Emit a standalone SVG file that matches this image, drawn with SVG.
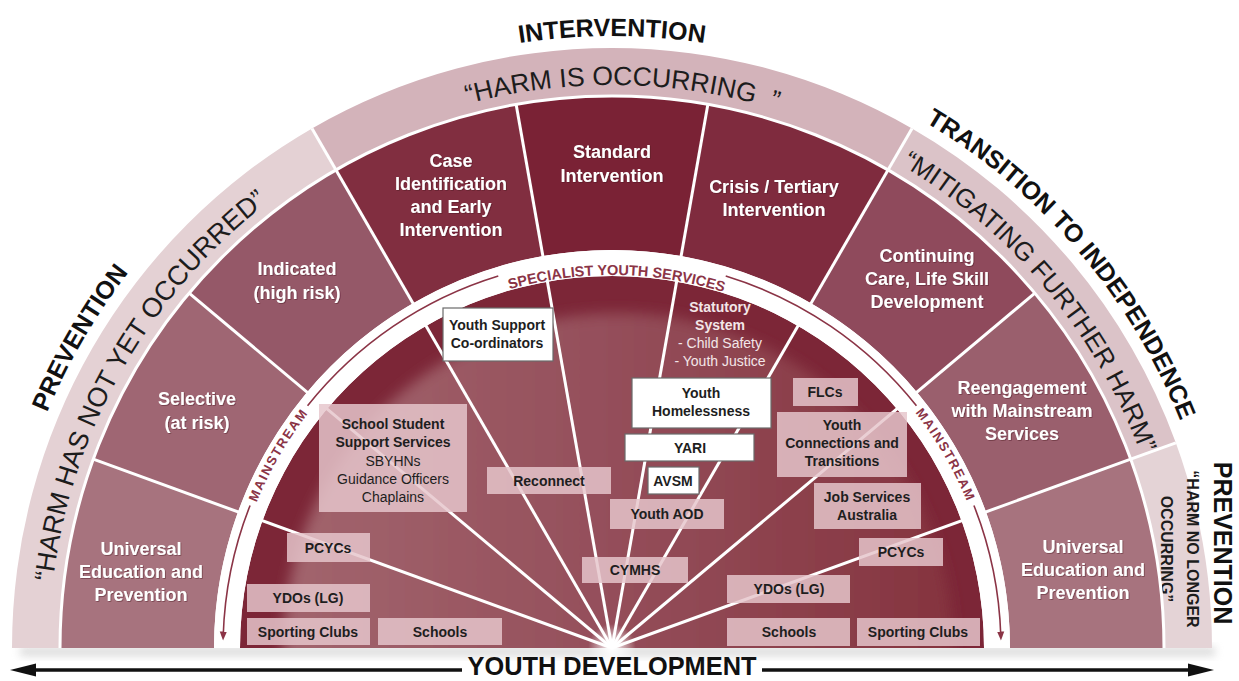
<svg xmlns="http://www.w3.org/2000/svg" width="1239" height="681" viewBox="0 0 1239 681">
  <style>
    .f { font-family: "Liberation Sans", Arial, sans-serif; }
    .seg { fill: #ffffff; font-weight: bold; font-size: 18px; text-anchor: middle; }
    .box { fill: #e6c6cc; fill-opacity: 0.84; }
    .wbox { fill: #ffffff; stroke: #6a6a6a; stroke-width: 1.2; }
    .bt { fill: #1e1e1e; font-weight: bold; font-size: 14px; text-anchor: middle; }
    .br { fill: #1e1e1e; font-size: 14px; text-anchor: middle; }
    .band { fill: #1c1c1c; font-size: 27px; }
    .phase { fill: #111111; font-weight: bold; font-size: 25px; }
    .ring { fill: #8b3446; font-weight: bold; }
    .ray { stroke: #ffffff; stroke-width: 3; fill: none; }
    .track { stroke: #8b3446; stroke-width: 1.6; fill: none; }
    .stat { fill: #f3e6e8; font-size: 14px; text-anchor: middle; }
  </style>
  <defs>
    <path id="arcBand" d="M 49 648 A 563 563 0 0 1 1175 648"/>
    <path id="arcOuter" d="M 0 648 A 612 612 0 0 1 1224 648"/>
    <path id="arcSpec" d="M 239 648 A 373 373 0 0 1 985 648"/>
    <path id="arcMain" d="M 228 648 A 384 384 0 0 1 996 648"/>
    <linearGradient id="diskGrad" gradientUnits="userSpaceOnUse" x1="280" y1="0" x2="950" y2="0">
      <stop offset="0" stop-color="#a2656e"/>
      <stop offset="0.5" stop-color="#944e5a"/>
      <stop offset="1" stop-color="#85343f"/>
    </linearGradient>
    <radialGradient id="glow" cx="612" cy="648" r="24" gradientUnits="userSpaceOnUse">
      <stop offset="0" stop-color="#ffffff" stop-opacity="1"/>
      <stop offset="1" stop-color="#ffffff" stop-opacity="0"/>
    </radialGradient>
    <filter id="soft" x="-10%" y="-10%" width="120%" height="120%"><feGaussianBlur stdDeviation="7"/></filter>
    <filter id="shade" x="-5%" y="-50%" width="110%" height="200%"><feGaussianBlur stdDeviation="4"/></filter>
    <filter id="tshadow" x="-10%" y="-20%" width="120%" height="140%">
      <feDropShadow dx="0.8" dy="0.8" stdDeviation="0.7" flood-color="#4a1020" flood-opacity="0.55"/>
    </filter>
    <clipPath id="innerClip"><path d="M 240 648 A 372 372 0 0 1 984 648 Z"/></clipPath>
    <marker id="head" viewBox="0 0 10 10" refX="5" refY="5" markerWidth="9" markerHeight="9" markerUnits="userSpaceOnUse" orient="auto">
      <path d="M 0 1 L 10 5 L 0 9 Z" fill="#8b3446"/>
    </marker>
  </defs>

  <rect x="0" y="0" width="1239" height="681" fill="#ffffff"/>

  <!-- soft shadow under the base -->
  <rect x="20" y="647" width="1195" height="9" fill="#bdbdbd" opacity="0.55" filter="url(#shade)"/>

  <!-- outer band -->
  <g id="band-not-yet">
    <path d="M 12 648 A 600 600 0 0 1 312 128.38 L 336 169.95 A 552 552 0 0 0 60 648 Z" fill="#e4d1d4"/>
    <text class="f band"><textPath href="#arcBand" startOffset="16.4%" text-anchor="middle">“HARM HAS NOT YET OCCURRED”</textPath></text>
  </g>
  <g id="band-occurring">
    <path d="M 312 128.38 A 600 600 0 0 1 912 128.38 L 888 169.95 A 552 552 0 0 0 336 169.95 Z" fill="#d3b3ba"/>
    <text class="f band" style="font-size:26.5px"><textPath href="#arcBand" startOffset="50.6%" text-anchor="middle">“HARM IS OCCURRING&#160;&#160;”</textPath></text>
  </g>
  <g id="band-mitigating">
    <path d="M 912 128.38 A 600 600 0 0 1 1175.81 442.79 L 1130.71 459.2 A 552 552 0 0 0 888 169.95 Z" fill="#dbc3c8"/>
    <text class="f band" style="font-size:26px"><textPath href="#arcBand" startOffset="78%" text-anchor="middle">“MITIGATING FURTHER HARM”</textPath></text>
  </g>
  <g id="band-no-longer">
    <path d="M 1175.81 442.79 A 600 600 0 0 1 1212 648 L 1164 648 A 552 552 0 0 0 1130.71 459.2 Z" fill="#e4d3d6"/>
    <g transform="translate(1180 549) rotate(90)">
      <text class="f" x="0" y="-7" text-anchor="middle" font-weight="bold" font-size="16" fill="#1c1c1c">“HARM NO LONGER</text>
      <text class="f" x="0" y="19" text-anchor="middle" font-weight="bold" font-size="16" fill="#1c1c1c">OCCURRING”</text>
    </g>
  </g>

  <!-- service level segments -->
  <g id="seg-universal-left">
    <path d="M 60 648 A 552 552 0 0 1 93.29 459.2 L 238 511.88 A 398 398 0 0 0 214 648 Z" fill="#a7737e"/>
  </g>
  <g id="seg-selective">
    <path d="M 93.29 459.2 A 552 552 0 0 1 189.15 293.18 L 307.12 392.17 A 398 398 0 0 0 238 511.88 Z" fill="#9f6673"/>
  </g>
  <g id="seg-indicated">
    <path d="M 189.15 293.18 A 552 552 0 0 1 336 169.95 L 413 303.32 A 398 398 0 0 0 307.12 392.17 Z" fill="#955868"/>
  </g>
  <g id="seg-case">
    <path d="M 336 169.95 A 552 552 0 0 1 516.15 104.39 L 542.89 256.05 A 398 398 0 0 0 413 303.32 Z" fill="#812e40"/>
  </g>
  <g id="seg-standard">
    <path d="M 516.15 104.39 A 552 552 0 0 1 707.85 104.39 L 681.11 256.05 A 398 398 0 0 0 542.89 256.05 Z" fill="#7a2235"/>
  </g>
  <g id="seg-crisis">
    <path d="M 707.85 104.39 A 552 552 0 0 1 888 169.95 L 811 303.32 A 398 398 0 0 0 681.11 256.05 Z" fill="#7f2b3e"/>
  </g>
  <g id="seg-continuing">
    <path d="M 888 169.95 A 552 552 0 0 1 1034.85 293.18 L 916.88 392.17 A 398 398 0 0 0 811 303.32 Z" fill="#8f4a5c"/>
  </g>
  <g id="seg-reengagement">
    <path d="M 1034.85 293.18 A 552 552 0 0 1 1130.71 459.2 L 986 511.88 A 398 398 0 0 0 916.88 392.17 Z" fill="#9a5f6d"/>
  </g>
  <g id="seg-universal-right">
    <path d="M 1130.71 459.2 A 552 552 0 0 1 1164 648 L 1010 648 A 398 398 0 0 0 986 511.88 Z" fill="#a7737e"/>
  </g>

  <!-- inner service field -->
  <g id="inner-field">
    <path d="M 240 648 A 372 372 0 0 1 984 648 Z" fill="#7c2637"/>
    <circle cx="618" cy="648" r="335" fill="url(#diskGrad)" filter="url(#soft)" clip-path="url(#innerClip)"/>
    <path d="M 214 648 A 398 398 0 0 1 1010 648 L 984 648 A 372 372 0 0 0 240 648 Z" fill="#ffffff"/>
  </g>

  <!-- connectors: rays, separators and ring arrows -->
  <g id="connectors">
    <path class="ray" d="M 60 648 A 552 552 0 0 1 1164 648" stroke-width="3.5"/>
    <line class="ray" x1="336" y1="169.95" x2="312" y2="128.38" stroke-width="4"/>
    <line class="ray" x1="888" y1="169.95" x2="912" y2="128.38" stroke-width="4"/>
    <line class="ray" x1="1130.71" y1="459.2" x2="1175.81" y2="442.79" stroke-width="4"/>
    <line class="ray" x1="612" y1="648" x2="93.29" y2="459.2"/>
    <line class="ray" x1="612" y1="648" x2="189.15" y2="293.18"/>
    <line class="ray" x1="612" y1="648" x2="336" y2="169.95"/>
    <line class="ray" x1="612" y1="648" x2="516.15" y2="104.39"/>
    <line class="ray" x1="612" y1="648" x2="707.85" y2="104.39"/>
    <line class="ray" x1="612" y1="648" x2="888" y2="169.95"/>
    <line class="ray" x1="612" y1="648" x2="1034.85" y2="293.18"/>
    <line class="ray" x1="612" y1="648" x2="1130.71" y2="459.2"/>
    <circle cx="612" cy="648" r="24" fill="url(#glow)"/>
    <path class="track" d="M 498.27 276 A 389 389 0 0 0 307.56 405.84"/>
    <path class="track" d="M 250.07 505.43 A 389 389 0 0 0 223.2 636" marker-end="url(#head)"/>
    <path class="track" d="M 725.73 276 A 389 389 0 0 1 916.44 405.84"/>
    <path class="track" d="M 973.93 505.43 A 389 389 0 0 1 1000.8 636" marker-end="url(#head)"/>
  </g>

  <g id="label-specialist">
    <text class="f ring" font-size="14.5"><textPath href="#arcSpec" startOffset="50.4%" text-anchor="middle">SPECIALIST YOUTH SERVICES</textPath></text>
  </g>
  <g id="label-mainstream-left">
    <text class="f ring" font-size="13" letter-spacing="1.6"><textPath href="#arcMain" startOffset="16.7%" text-anchor="middle">MAINSTREAM</textPath></text>
  </g>
  <g id="label-mainstream-right">
    <text class="f ring" font-size="13" letter-spacing="1.6"><textPath href="#arcMain" startOffset="83.3%" text-anchor="middle">MAINSTREAM</textPath></text>
  </g>

  <!-- segment labels -->
  <g class="f" filter="url(#tshadow)">
    <text class="seg" x="141" y="555">Universal</text>
    <text class="seg" x="141" y="578">Education and</text>
    <text class="seg" x="141" y="601">Prevention</text>
    <text class="seg" x="197" y="405">Selective</text>
    <text class="seg" x="197" y="429">(at risk)</text>
    <text class="seg" x="297" y="275">Indicated</text>
    <text class="seg" x="297" y="299">(high risk)</text>
    <text class="seg" x="451" y="167">Case</text>
    <text class="seg" x="451" y="190">Identification</text>
    <text class="seg" x="451" y="213">and Early</text>
    <text class="seg" x="451" y="236">Intervention</text>
    <text class="seg" x="612" y="158">Standard</text>
    <text class="seg" x="612" y="182">Intervention</text>
    <text class="seg" x="774" y="193">Crisis / Tertiary</text>
    <text class="seg" x="774" y="216">Intervention</text>
    <text class="seg" x="927" y="262">Continuing</text>
    <text class="seg" x="927" y="285">Care, Life Skill</text>
    <text class="seg" x="927" y="308">Development</text>
    <text class="seg" x="1022" y="394">Reengagement</text>
    <text class="seg" x="1022" y="417">with Mainstream</text>
    <text class="seg" x="1022" y="440">Services</text>
    <text class="seg" x="1083" y="553">Universal</text>
    <text class="seg" x="1083" y="576">Education and</text>
    <text class="seg" x="1083" y="599">Prevention</text>
  </g>

  <!-- service boxes -->
  <g id="node-youth-support" class="f">
    <rect class="wbox" x="443" y="308" width="110" height="53"/>
    <text class="bt" x="497" y="330">Youth Support</text>
    <text class="bt" x="497" y="348">Co-ordinators</text>
  </g>
  <g id="node-school-support" class="f">
    <rect class="box" x="319" y="404" width="148" height="108"/>
    <text class="bt" x="393" y="429">School Student</text>
    <text class="bt" x="393" y="447">Support Services</text>
    <text class="br" x="393" y="466">SBYHNs</text>
    <text class="br" x="393" y="484">Guidance Officers</text>
    <text class="br" x="393" y="502">Chaplains</text>
  </g>
  <g id="node-reconnect" class="f">
    <rect class="box" x="487" y="467" width="124" height="27"/>
    <text class="bt" x="549" y="486">Reconnect</text>
  </g>
  <g id="node-pcycs-left" class="f">
    <rect class="box" x="287" y="533" width="83" height="29"/>
    <text class="bt" x="328" y="553">PCYCs</text>
  </g>
  <g id="node-ydos-left" class="f">
    <rect class="box" x="247" y="584" width="123" height="28"/>
    <text class="bt" x="308" y="603">YDOs (LG)</text>
  </g>
  <g id="node-sporting-left" class="f">
    <rect class="box" x="247" y="618" width="123" height="27"/>
    <text class="bt" x="308" y="637">Sporting Clubs</text>
  </g>
  <g id="node-schools-left" class="f">
    <rect class="box" x="378" y="618" width="124" height="27"/>
    <text class="bt" x="440" y="637">Schools</text>
  </g>
  <g id="node-cymhs" class="f">
    <rect class="box" x="582" y="557" width="106" height="26"/>
    <text class="bt" x="635" y="575">CYMHS</text>
  </g>
  <g id="node-youth-aod" class="f">
    <rect class="box" x="610" y="499" width="114" height="30"/>
    <text class="bt" x="667" y="519">Youth AOD</text>
  </g>
  <g id="node-statutory" class="f">
    <text class="stat" x="720" y="312" font-weight="bold">Statutory</text>
    <text class="stat" x="720" y="330" font-weight="bold">System</text>
    <text class="stat" x="720" y="348">- Child Safety</text>
    <text class="stat" x="720" y="366">- Youth Justice</text>
  </g>
  <g id="node-youth-homelessness" class="f">
    <rect class="wbox" x="632" y="378" width="139" height="50"/>
    <text class="bt" x="701" y="398">Youth</text>
    <text class="bt" x="701" y="416">Homelessness</text>
  </g>
  <g id="node-yari" class="f">
    <rect class="wbox" x="625" y="434" width="129" height="27"/>
    <text class="bt" x="690" y="453">YARI</text>
  </g>
  <g id="node-avsm" class="f">
    <rect class="wbox" x="648" y="467" width="51" height="27"/>
    <text class="bt" x="673" y="486">AVSM</text>
  </g>
  <g id="node-flcs" class="f">
    <rect class="box" x="793" y="378" width="65" height="28"/>
    <text class="bt" x="825" y="397">FLCs</text>
  </g>
  <g id="node-youth-connections" class="f">
    <rect class="box" x="777" y="412" width="130" height="65"/>
    <text class="bt" x="842" y="430">Youth</text>
    <text class="bt" x="842" y="448">Connections and</text>
    <text class="bt" x="842" y="466">Transitions</text>
  </g>
  <g id="node-job-services" class="f">
    <rect class="box" x="814" y="483" width="107" height="46"/>
    <text class="bt" x="867" y="502">Job Services</text>
    <text class="bt" x="867" y="520">Australia</text>
  </g>
  <g id="node-pcycs-right" class="f">
    <rect class="box" x="859" y="538" width="84" height="28"/>
    <text class="bt" x="901" y="557">PCYCs</text>
  </g>
  <g id="node-ydos-right" class="f">
    <rect class="box" x="727" y="575" width="123" height="28"/>
    <text class="bt" x="789" y="594">YDOs (LG)</text>
  </g>
  <g id="node-schools-right" class="f">
    <rect class="box" x="727" y="618" width="123" height="28"/>
    <text class="bt" x="789" y="637">Schools</text>
  </g>
  <g id="node-sporting-right" class="f">
    <rect class="box" x="857" y="618" width="123" height="28"/>
    <text class="bt" x="918" y="637">Sporting Clubs</text>
  </g>

  <!-- phase headings -->
  <g id="phase-prevention-left">
    <text class="f phase"><textPath href="#arcOuter" startOffset="16.8%" text-anchor="middle">PREVENTION</textPath></text>
  </g>
  <g id="phase-intervention">
    <text class="f phase"><textPath href="#arcOuter" startOffset="50%" text-anchor="middle">INTERVENTION</textPath></text>
  </g>
  <g id="phase-transition">
    <text class="f phase"><textPath href="#arcOuter" startOffset="77.5%" text-anchor="middle">TRANSITION TO INDEPENDENCE</textPath></text>
  </g>
  <g id="phase-prevention-right">
    <text class="f phase" transform="translate(1223 543) rotate(90)" x="0" y="9" text-anchor="middle">PREVENTION</text>
  </g>

  <!-- youth development axis -->
  <g id="axis-youth-development">
    <line x1="28" y1="670" x2="462" y2="670" stroke="#111111" stroke-width="3.5"/>
    <line x1="762" y1="670" x2="1196" y2="670" stroke="#111111" stroke-width="3.5"/>
    <path d="M 10 670 L 36 663.5 L 36 676.5 Z" fill="#111111"/>
    <path d="M 1214 670 L 1188 663.5 L 1188 676.5 Z" fill="#111111"/>
    <text class="f" x="612" y="675" text-anchor="middle" font-weight="bold" font-size="26" fill="#111111" textLength="289" lengthAdjust="spacingAndGlyphs">YOUTH DEVELOPMENT</text>
  </g>
</svg>
